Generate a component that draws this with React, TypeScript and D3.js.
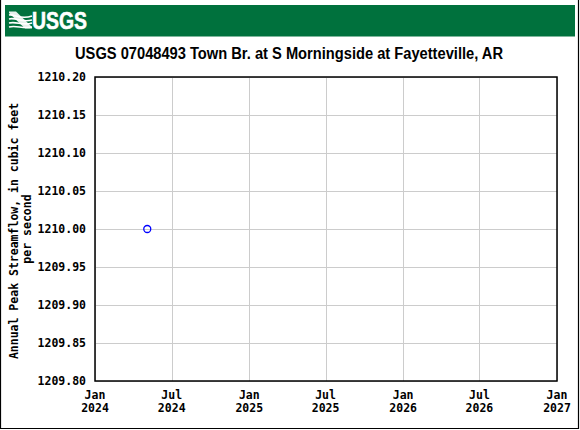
import { useEffect, useRef } from 'react';
import * as d3 from 'd3';

const WIDTH = 580;
const HEIGHT = 430;

const TITLE = 'USGS 07048493 Town Br. at S Morningside at Fayetteville, AR';
const Y_LABEL_1 = 'Annual Peak Streamflow, in cubic feet';
const Y_LABEL_2 = 'per second';

// peak record
const peakDates = ['2024-05-04'];
const peakValues = [1210.0];

const yTicks = [1209.8, 1209.85, 1209.9, 1209.95, 1210.0, 1210.05, 1210.1, 1210.15, 1210.2];
const xTickDates = ['2024-01-01', '2024-07-01', '2025-01-01', '2025-07-01', '2026-01-01', '2026-07-01', '2027-01-01'];
const xTickMonths = ['Jan', 'Jul', 'Jan', 'Jul', 'Jan', 'Jul', 'Jan'];
const xTickYears = ['2024', '2024', '2025', '2025', '2026', '2026', '2027'];

const MONO = '"DejaVu Sans Mono", monospace';

export default function App() {
  const svgRef = useRef<SVGSVGElement>(null);

  useEffect(() => {
    if (!svgRef.current) return;
    const svg = d3.select(svgRef.current);
    svg.selectAll('*').remove();

    const margin = { top: 77, right: 23, bottom: 49, left: 95 };
    const innerW = WIDTH - margin.left - margin.right;
    const innerH = HEIGHT - margin.top - margin.bottom;

    svg.append('rect').attr('width', WIDTH).attr('height', HEIGHT).attr('fill', '#fff');

    // outer frame (no top edge)
    svg.append('path')
      .attr('d', `M0.5,0 V${HEIGHT - 1.5} H${WIDTH - 1.5} V0`)
      .attr('fill', 'none')
      .attr('stroke', '#000')
      .attr('stroke-width', 1.2);

    // banner
    svg.append('rect')
      .attr('x', 5).attr('y', 5)
      .attr('width', 570).attr('height', 31.5)
      .attr('fill', '#00713d');

    // logo mark
    const logo = svg.append('g').attr('transform', 'translate(9,11)');
    const waves = [
      'M0,4 C6,3 11,9 23,5',
      'M0,8 C7,6 12,12 23,9',
      'M0,12 C8,10 13,15 23,12',
      'M0,16 C7,14 14,18 23,16',
    ];
    logo.selectAll('path.wave')
      .data(waves)
      .join('path')
      .attr('d', d => d)
      .attr('fill', 'none')
      .attr('stroke', '#fff')
      .attr('stroke-width', 1.6);
    logo.append('path')
      .attr('d', 'M0,0.5 L7,0.5 L23,16 L23,17.5 L16,17.5 L0,2 Z')
      .attr('fill', '#fff')
      .attr('opacity', 0.9);
    svg.append('text')
      .attr('x', 32).attr('y', 28.5)
      .attr('font-family', '"Liberation Sans", Arial, sans-serif')
      .attr('font-weight', 'bold')
      .attr('font-size', 24.5)
      .attr('textLength', 55)
      .attr('lengthAdjust', 'spacingAndGlyphs')
      .attr('stroke', '#fff')
      .attr('stroke-width', 0.6)
      .attr('fill', '#fff')
      .text('USGS');

    // title
    svg.append('text')
      .attr('x', 75).attr('y', 59)
      .attr('font-family', '"Liberation Sans", Arial, sans-serif')
      .attr('font-weight', 'bold')
      .attr('font-size', 16)
      .attr('textLength', 428)
      .attr('lengthAdjust', 'spacingAndGlyphs')
      .attr('fill', '#000')
      .text(TITLE);

    const x = d3.scaleUtc()
      .domain([new Date('2024-01-01'), new Date('2027-01-01')])
      .range([margin.left, margin.left + innerW]);
    const y = d3.scaleLinear()
      .domain([1209.8, 1210.2])
      .range([margin.top + innerH, margin.top]);

    const grid = svg.append('g').attr('stroke', '#cccccc').attr('stroke-width', 1);
    grid.selectAll('line.h')
      .data(yTicks)
      .join('line')
      .attr('x1', margin.left).attr('x2', margin.left + innerW)
      .attr('y1', d => Math.round(y(d)) + 0.5).attr('y2', d => Math.round(y(d)) + 0.5);
    grid.selectAll('line.v')
      .data(xTickDates)
      .join('line')
      .attr('x1', d => Math.round(x(new Date(d))) + 0.5).attr('x2', d => Math.round(x(new Date(d))) + 0.5)
      .attr('y1', margin.top).attr('y2', margin.top + innerH);

    svg.append('rect')
      .attr('x', margin.left).attr('y', margin.top)
      .attr('width', innerW).attr('height', innerH)
      .attr('fill', 'none')
      .attr('stroke', '#000')
      .attr('stroke-width', 1.5);

    // y tick labels
    svg.append('g')
      .selectAll('text')
      .data(yTicks)
      .join('text')
      .attr('x', 86)
      .attr('y', d => y(d) + 4)
      .attr('text-anchor', 'end')
      .attr('font-family', MONO)
      .attr('font-weight', 'bold')
      .attr('font-size', 11.5)
      .text(d => d.toFixed(2));

    // x tick labels
    const xl = svg.append('g')
      .attr('font-family', MONO)
      .attr('font-weight', 'bold')
      .attr('font-size', 11.5)
      .attr('text-anchor', 'middle');
    xl.selectAll('text.m')
      .data(xTickDates)
      .join('text')
      .attr('x', d => x(new Date(d)))
      .attr('y', 399)
      .text((_, i) => xTickMonths[i]);
    xl.selectAll('text.yr')
      .data(xTickDates)
      .join('text')
      .attr('x', d => x(new Date(d)))
      .attr('y', 412)
      .text((_, i) => xTickYears[i]);

    // y axis title
    const cy = margin.top + innerH / 2 + 2;
    svg.append('text')
      .attr('transform', `translate(18,${cy}) rotate(-90)`)
      .attr('text-anchor', 'middle')
      .attr('font-family', MONO)
      .attr('font-weight', 'bold')
      .attr('font-size', 11.5)
      .text(Y_LABEL_1);
    svg.append('text')
      .attr('transform', `translate(31,${cy - 2}) rotate(-90)`)
      .attr('text-anchor', 'middle')
      .attr('font-family', MONO)
      .attr('font-weight', 'bold')
      .attr('font-size', 11.5)
      .text(Y_LABEL_2);

    // peaks
    svg.append('g')
      .selectAll('circle')
      .data(peakDates)
      .join('circle')
      .attr('cx', d => x(new Date(d)))
      .attr('cy', (_, i) => y(peakValues[i]))
      .attr('r', 3.5)
      .attr('fill', 'none')
      .attr('stroke', '#0000ff')
      .attr('stroke-width', 1.3);
  }, []);

  return (
    <svg
      ref={svgRef}
      width={WIDTH}
      height={HEIGHT}
      style={{ position: 'absolute', left: 0, top: 0, display: 'block' }}
    />
  );
}
